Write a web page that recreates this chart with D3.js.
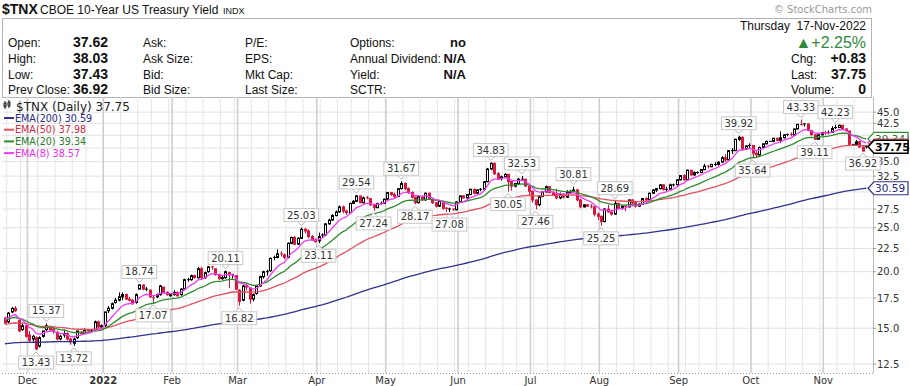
<!DOCTYPE html>
<html>
<head>
<meta charset="utf-8">
<script src="https://cdn.jsdelivr.net/npm/d3@7"></script>
<style>
  body { margin: 0; background: #fff; }
  svg text { font-family: "DejaVu Sans", Verdana, sans-serif; }
</style>
</head>
<body>
<script>
// daily candles: date open high low close
var candles = [
"2021-11-19 15.8 15.9 15.3 15.4","2021-11-22 15.5 16.3 15.4 16.2","2021-11-23 16.3 16.7 16.2 16.6",
"2021-11-24 16.6 16.8 16.3 16.4","2021-11-26 15.6 15.7 14.7 14.8","2021-11-29 14.9 15.4 14.8 15.2",
"2021-11-30 15.2 15.3 14.3 14.4",
"2021-12-01 14.5 14.8 14.0 14.1","2021-12-02 14.2 14.5 14.0 14.4","2021-12-03 14.3 14.4 13.43 13.5",
"2021-12-06 13.7 14.4 13.6 14.3","2021-12-07 14.4 14.8 14.3 14.8","2021-12-08 14.9 15.37 14.8 15.2",
"2021-12-09 15.1 15.2 14.8 14.9","2021-12-10 14.9 15.1 14.6 14.8","2021-12-13 14.7 14.8 14.1 14.2",
"2021-12-14 14.2 14.5 14.1 14.4","2021-12-15 14.5 14.9 14.3 14.6","2021-12-16 14.6 14.7 14.1 14.2",
"2021-12-17 14.2 14.3 13.8 14.0","2021-12-20 13.9 14.3 13.72 14.2","2021-12-21 14.3 14.8 14.2 14.8",
"2021-12-22 14.7 14.8 14.5 14.6","2021-12-23 14.6 15.0 14.6 14.9","2021-12-27 14.9 14.9 14.7 14.8",
"2021-12-28 14.8 14.9 14.7 14.8","2021-12-29 14.9 15.6 14.8 15.5","2021-12-30 15.5 15.6 15.0 15.1",
"2021-12-31 15.1 15.3 15.0 15.2",
"2022-01-03 15.2 16.3 15.1 16.3","2022-01-04 16.4 16.8 16.2 16.6","2022-01-05 16.6 17.1 16.5 17.0",
"2022-01-06 17.1 17.5 17.0 17.3","2022-01-07 17.3 18.0 17.2 17.6","2022-01-10 17.6 18.0 17.3 17.8",
"2022-01-11 17.8 17.9 17.3 17.4","2022-01-12 17.4 17.6 17.2 17.3","2022-01-13 17.3 17.4 16.9 17.0",
"2022-01-14 17.1 17.9 17.0 17.8","2022-01-18 18.3 18.74 18.3 18.7","2022-01-19 18.7 18.7 18.2 18.3",
"2022-01-20 18.3 18.5 18.1 18.3","2022-01-21 18.2 18.3 17.5 17.6","2022-01-24 17.5 17.7 17.07 17.5",
"2022-01-25 17.6 17.9 17.5 17.8","2022-01-26 17.8 18.7 17.7 18.6","2022-01-27 18.5 18.5 17.9 18.0",
"2022-01-28 18.0 18.1 17.7 17.8","2022-01-31 17.7 17.9 17.6 17.8",
"2022-02-01 17.8 18.2 17.7 18.0","2022-02-02 18.0 18.1 17.6 17.7","2022-02-03 17.8 18.4 17.7 18.3",
"2022-02-04 18.3 19.3 18.2 19.2","2022-02-07 19.2 19.4 19.0 19.2","2022-02-08 19.2 19.7 19.1 19.6",
"2022-02-09 19.6 19.7 19.3 19.4","2022-02-10 19.4 20.5 19.3 20.3","2022-02-11 20.3 20.5 19.2 19.4",
"2022-02-14 19.4 20.0 19.3 19.9","2022-02-15 20.0 20.6 19.9 20.5","2022-02-16 20.5 20.6 20.2 20.4",
"2022-02-17 20.3 20.3 19.6 19.7","2022-02-18 19.7 19.8 19.2 19.3","2022-02-22 19.3 19.6 19.2 19.4",
"2022-02-23 19.4 20.11 19.3 20.0","2022-02-24 19.9 20.0 18.4 19.7","2022-02-25 19.7 19.8 19.3 19.7",
"2022-02-28 19.6 19.6 18.2 18.3",
"2022-03-01 18.2 18.3 16.82 17.2","2022-03-02 17.3 18.7 17.2 18.6","2022-03-03 18.6 18.8 18.2 18.5",
"2022-03-04 18.4 18.4 17.0 17.4","2022-03-07 17.4 17.9 17.2 17.8","2022-03-08 17.9 18.7 17.8 18.6",
"2022-03-09 18.6 19.6 18.5 19.5","2022-03-10 19.5 20.1 19.3 20.0","2022-03-11 20.0 20.2 19.6 20.0",
"2022-03-14 20.1 21.5 20.0 21.4","2022-03-15 21.4 21.7 21.2 21.5","2022-03-16 21.5 22.4 21.4 21.9",
"2022-03-17 21.9 22.2 21.6 21.8","2022-03-18 21.8 21.9 21.3 21.5","2022-03-21 21.5 23.2 21.4 23.1",
"2022-03-22 23.1 23.9 23.0 23.8","2022-03-23 23.8 24.0 22.9 23.0","2022-03-24 23.0 23.8 22.9 23.7",
"2022-03-25 23.7 25.03 23.6 24.8","2022-03-28 24.8 25.0 24.3 24.6","2022-03-29 24.6 24.8 23.7 23.9",
"2022-03-30 23.9 24.1 23.4 23.5","2022-03-31 23.5 23.7 23.2 23.3",
"2022-04-01 23.4 24.4 23.11 23.9","2022-04-04 24.0 24.3 23.8 24.1","2022-04-05 24.1 25.6 24.0 25.5",
"2022-04-06 25.5 26.2 25.4 26.0","2022-04-07 26.0 26.8 25.9 26.6","2022-04-08 26.6 27.3 26.5 27.1",
"2022-04-11 27.1 28.0 27.0 27.8","2022-04-12 27.8 28.0 26.9 27.2","2022-04-13 27.2 27.4 26.7 27.0",
"2022-04-14 27.0 28.4 26.9 28.3","2022-04-18 28.3 28.8 28.2 28.6","2022-04-19 28.6 29.54 28.5 29.4",
"2022-04-20 29.4 29.4 28.3 28.4","2022-04-21 28.4 29.3 28.3 29.1","2022-04-22 29.1 29.4 28.9 29.0",
"2022-04-25 29.0 29.0 27.9 28.1","2022-04-26 28.1 28.2 27.24 27.7","2022-04-27 27.7 28.4 27.6 28.3",
"2022-04-28 28.3 28.6 28.1 28.3","2022-04-29 28.3 29.0 28.2 28.9",
"2022-05-02 28.9 30.0 28.8 29.9","2022-05-03 29.9 30.0 29.4 29.6","2022-05-04 29.6 29.9 29.0 29.3",
"2022-05-05 29.3 30.6 29.2 30.5","2022-05-06 30.5 31.67 30.4 31.3","2022-05-09 31.3 31.5 30.3 30.5",
"2022-05-10 30.5 30.7 29.7 29.9","2022-05-11 29.9 30.1 29.0 29.2","2022-05-12 29.2 29.3 28.17 28.4",
"2022-05-13 28.4 29.4 28.3 29.3","2022-05-16 29.3 29.5 28.7 28.8","2022-05-17 28.8 29.9 28.7 29.8",
"2022-05-18 29.8 29.9 28.8 28.9","2022-05-19 28.9 29.0 28.2 28.4","2022-05-20 28.4 28.5 27.7 27.9",
"2022-05-23 27.9 28.7 27.8 28.6","2022-05-24 28.6 28.6 27.4 27.6","2022-05-25 27.6 27.8 27.1 27.5",
"2022-05-26 27.5 27.7 27.08 27.5","2022-05-27 27.5 27.6 27.2 27.4","2022-05-31 27.4 28.6 27.3 28.5",
"2022-06-01 28.5 29.4 28.4 29.4","2022-06-02 29.4 29.5 29.0 29.1","2022-06-03 29.1 29.7 29.0 29.6",
"2022-06-06 29.6 30.5 29.5 30.4","2022-06-07 30.4 30.5 29.6 29.8","2022-06-08 29.8 30.4 29.7 30.3",
"2022-06-09 30.3 30.6 30.1 30.4","2022-06-10 30.4 31.7 30.3 31.6","2022-06-13 31.6 33.9 31.5 33.7",
"2022-06-14 33.7 34.83 33.5 34.7","2022-06-15 34.7 34.8 32.7 32.9","2022-06-16 32.9 33.2 31.9 32.0",
"2022-06-17 32.1 32.6 31.8 32.4","2022-06-21 32.4 33.0 32.3 32.8","2022-06-22 32.8 32.8 30.05 31.6",
"2022-06-23 31.6 31.7 30.2 30.9","2022-06-24 30.9 31.4 30.7 31.3","2022-06-27 31.3 32.2 31.2 32.0",
"2022-06-28 32.0 32.53 31.9 32.0","2022-06-29 32.0 32.0 30.8 30.9","2022-06-30 30.9 31.0 29.5 30.1",
"2022-07-01 30.1 30.2 28.4 28.8","2022-07-05 28.8 28.9 27.46 28.1","2022-07-06 28.1 29.5 27.9 29.3",
"2022-07-07 29.3 30.1 29.2 30.0","2022-07-08 30.0 31.0 29.9 30.8","2022-07-11 30.8 30.8 29.8 29.9",
"2022-07-12 29.9 30.1 29.4 29.6","2022-07-13 29.6 30.5 28.9 29.1","2022-07-14 29.1 29.9 28.9 29.6",
"2022-07-15 29.6 29.8 29.0 29.2","2022-07-18 29.2 30.3 29.1 29.9","2022-07-19 29.9 30.3 29.7 30.1",
"2022-07-20 30.1 30.81 30.0 30.3","2022-07-21 30.3 30.5 28.6 28.8","2022-07-22 28.8 29.0 27.6 27.8",
"2022-07-25 27.8 28.2 27.7 28.1","2022-07-26 28.1 28.2 27.8 27.9","2022-07-27 27.9 28.2 27.6 27.8",
"2022-07-28 27.8 27.9 26.5 26.8","2022-07-29 26.8 27.0 26.0 26.5",
"2022-08-01 26.5 26.6 25.25 25.8","2022-08-02 25.8 27.6 25.7 27.5","2022-08-03 27.5 28.1 27.0 27.1",
"2022-08-04 27.1 27.4 26.6 26.8","2022-08-05 26.8 28.69 26.7 28.3","2022-08-08 28.3 28.4 27.5 27.6",
"2022-08-09 27.6 28.0 27.4 27.9","2022-08-10 27.9 28.1 27.2 27.8","2022-08-11 27.8 28.9 27.7 28.8",
"2022-08-12 28.8 28.9 28.2 28.4","2022-08-15 28.4 28.5 27.7 27.9","2022-08-16 27.9 28.3 27.8 28.2",
"2022-08-17 28.2 29.1 28.1 29.0","2022-08-18 29.0 29.2 28.6 28.8","2022-08-19 28.8 29.9 28.7 29.8",
"2022-08-22 29.8 30.4 29.7 30.3","2022-08-23 30.3 30.6 30.0 30.5","2022-08-24 30.5 31.2 30.4 31.1",
"2022-08-25 31.1 31.2 30.2 30.4","2022-08-26 30.4 30.8 30.1 30.4","2022-08-29 30.4 31.3 30.3 31.1",
"2022-08-30 31.1 31.3 30.8 31.1","2022-08-31 31.1 32.0 31.0 31.9",
"2022-09-01 31.9 32.7 31.8 32.6","2022-09-02 32.6 32.8 31.8 31.9","2022-09-06 31.9 33.6 31.8 33.5",
"2022-09-07 33.5 33.5 32.6 32.7","2022-09-08 32.7 33.3 32.6 33.1","2022-09-09 33.1 33.3 32.9 33.1",
"2022-09-12 33.1 33.7 33.0 33.6","2022-09-13 33.6 34.6 33.5 34.2","2022-09-14 34.2 34.4 33.8 34.1",
"2022-09-15 34.1 34.6 34.0 34.5","2022-09-16 34.5 34.9 34.2 34.5","2022-09-19 34.5 35.0 34.3 34.9",
"2022-09-20 34.9 36.0 34.8 35.7","2022-09-21 35.7 36.4 34.9 35.3","2022-09-22 35.3 37.1 35.2 37.0",
"2022-09-23 36.9 37.5 36.4 37.0","2022-09-26 37.0 39.3 36.9 39.2","2022-09-27 39.2 39.92 38.9 39.6",
"2022-09-28 39.6 39.8 37.0 37.3","2022-09-29 37.3 38.0 37.2 37.9","2022-09-30 37.9 38.4 37.3 38.0",
"2022-10-03 38.0 38.0 35.64 36.5","2022-10-04 36.5 36.9 35.7 36.2","2022-10-05 36.2 37.8 36.1 37.6",
"2022-10-06 37.6 38.4 37.5 38.3","2022-10-07 38.3 38.9 38.2 38.8","2022-10-10 38.8 38.8 38.8 38.8",
"2022-10-11 38.8 39.5 38.6 39.4","2022-10-12 39.4 39.5 38.8 39.0","2022-10-13 39.0 40.8 38.5 39.5",
"2022-10-14 39.5 40.2 39.4 40.1","2022-10-17 40.1 40.3 39.8 40.2","2022-10-18 40.2 40.6 39.8 40.0",
"2022-10-19 40.0 41.4 39.9 41.3","2022-10-20 41.3 42.4 41.2 42.3","2022-10-21 42.3 43.33 42.0 42.2",
"2022-10-24 42.2 42.5 41.8 42.4","2022-10-25 42.4 42.4 40.8 41.0","2022-10-26 41.0 41.1 40.0 40.1",
"2022-10-27 40.1 40.3 39.11 39.2","2022-10-28 39.2 40.2 39.2 40.1","2022-10-31 40.1 40.7 40.0 40.5",
"2022-11-01 40.5 40.9 40.1 40.4","2022-11-02 40.4 41.0 40.2 40.6","2022-11-03 40.6 41.9 40.5 41.4",
"2022-11-04 41.4 42.23 41.3 41.6","2022-11-07 41.6 42.2 41.5 42.1","2022-11-08 42.1 42.1 41.1 41.3",
"2022-11-09 41.3 41.5 40.8 40.9","2022-11-10 40.9 40.9 38.0 38.2","2022-11-11 38.2 38.2 38.2 38.2",
"2022-11-14 38.2 39.1 38.1 38.7","2022-11-15 38.7 38.9 37.5 37.7","2022-11-16 37.7 37.8 36.92 36.92",
"2022-11-17 37.62 38.03 37.43 37.75"
];

// moving averages
var emaPeriods = [200, 50, 20, 8];
var emaSeeds = [13.85, 15.3, 15.7, 15.8];   // values at left edge of the chart
var emaNames = ["EMA(200)", "EMA(50)", "EMA(20)", "EMA(8)"];
var emaLast = ["30.59", "37.98", "39.34", "38.57"];
var emaColors = ["#32328c", "#e0505f", "#308a30", "#f03cf0"];
var emaTextColors = ["#2a2a80", "#cc2a45", "#2a7a2a", "#e830e8"];

var yTicks = [12.5, 15, 17.5, 20, 22.5, 25, 27.5, 30, 32.5, 35, 37.5, 40, 42.5, 45];
var hiddenTicks = [30, 37.5, 40];   // covered by the value tags on the right
var monthStarts = ["2021-12-01","2022-01-03","2022-02-01","2022-03-01","2022-04-01","2022-05-02",
                   "2022-06-01","2022-07-01","2022-08-01","2022-09-01","2022-10-03","2022-11-01"];
var monthLabels = ["Dec","2022","Feb","Mar","Apr","May","Jun","Jul","Aug","Sep","Oct","Nov"];

// annotated highs and lows
var peakDates = ["2021-12-03","2021-12-08","2021-12-20","2022-01-18","2022-01-24","2022-02-23","2022-03-01",
  "2022-03-25","2022-04-01","2022-04-19","2022-04-26","2022-05-06","2022-05-12","2022-05-26","2022-06-14",
  "2022-06-22","2022-06-28","2022-07-05","2022-07-20","2022-08-01","2022-08-05","2022-09-27","2022-10-03",
  "2022-10-21","2022-10-27","2022-11-04","2022-11-16"];
var peakValues = [13.43,15.37,13.72,18.74,17.07,20.11,16.82,25.03,23.11,29.54,27.24,31.67,28.17,27.08,34.83,
  30.05,32.53,27.46,30.81,25.25,28.69,39.92,35.64,43.33,39.11,42.23,36.92];
var peakKinds = ["L","H","L","H","L","H","L","H","L","H","L","H","L","L","H","L","H","L","H","L","H","H","L","H","L","H","L"];

// quote panel
var quoteLabels = [["Open:","High:","Low:","Prev Close:"],["Ask:","Ask Size:","Bid:","Bid Size:"],
                   ["P/E:","EPS:","Mkt Cap:","Last Size:"],["Options:","Annual Dividend:","Yield:","SCTR:"]];
var quoteValues = [["37.62","38.03","37.43","36.92"],["","","",""],["","","",""],["no","N/A","N/A",""]];
var sideLabels = ["Chg:","Last:","Volume:"];
var sideValues = ["+0.83","37.75","0"];

var w = 910, h = 386;
var plotL = 2, plotR = 873, plotT = 97, plotB = 373;
var arial = '"Liberation Sans", Arial, sans-serif';

var parse = d3.timeParse("%Y-%m-%d");
var index = {};
var data = candles.map(function(s, i) {
  var p = s.split(" ");
  index[p[0]] = i;
  return { i: i, date: parse(p[0]), o: +p[1], h: +p[2], l: +p[3], c: +p[4] };
});

var x = d3.scaleLinear().domain([0, data.length - 1]).range([5, 866.3]);
var y = d3.scaleLog().domain([11.95, 48.6]).range([plotB, plotT]);

var svg = d3.select("body").append("svg").attr("width", w).attr("height", h);

//---------------- header
var hdr = svg.append("g").attr("fill", "#111");
hdr.append("text").attr("x", 2).attr("y", 14).style("font-family", arial)
  .attr("font-size", 14).attr("font-weight", "bold").text("$TNX");
hdr.append("text").attr("x", 40).attr("y", 14).style("font-family", arial)
  .attr("font-size", 12).text("CBOE 10-Year US Treasury Yield");
hdr.append("text").attr("x", 223).attr("y", 14).style("font-family", arial)
  .attr("font-size", 9).text("INDX");
svg.append("text").attr("x", 872).attr("y", 13).attr("text-anchor", "end")
  .attr("font-size", 10).attr("fill", "#999").text("\u00a9 StockCharts.com");
hdr.append("rect").attr("x", 2.5).attr("y", 18.5).attr("width", 869).attr("height", 79)
  .attr("fill", "none").attr("stroke", "#b4b4b4");

var colX = [8, 143, 245, 350], valX = [108, null, null, 466];
var rowY = [47, 63, 79, 94];
quoteLabels.forEach(function(col, ci) {
  col.forEach(function(t, ri) {
    hdr.append("text").attr("x", colX[ci]).attr("y", rowY[ri])
      .style("font-family", arial).attr("font-size", 12).text(t);
    var v = quoteValues[ci][ri];
    if (v) hdr.append("text").attr("x", valX[ci]).attr("y", rowY[ri]).attr("text-anchor", "end")
      .style("font-family", arial)
      .attr("font-size", ci === 0 ? 14 : 13).attr("font-weight", "bold").text(v);
  });
});
hdr.append("text").attr("x", 866).attr("y", 30).attr("text-anchor", "end")
  .style("font-family", arial).attr("font-size", 12)
  .attr("xml:space", "preserve").text("Thursday  17-Nov-2022");
hdr.append("text").attr("x", 866).attr("y", 48).attr("text-anchor", "end")
  .style("font-family", arial).attr("font-size", 16)
  .attr("fill", "#2f8a3c").text("\u25B2+2.25%");
sideLabels.forEach(function(t, k) {
  hdr.append("text").attr("x", 791).attr("y", rowY[k + 1])
    .style("font-family", arial).attr("font-size", 12).text(t);
  hdr.append("text").attr("x", 866).attr("y", rowY[k + 1]).attr("text-anchor", "end")
    .style("font-family", arial).attr("font-size", 14)
    .attr("font-weight", "bold").text(sideValues[k]);
});

//---------------- grid
var grid = svg.append("g");
// weekly lines
data.forEach(function(d, i) {
  if (i > 0 && d.date.getDay() < data[i - 1].date.getDay()) {
    grid.append("line").attr("x1", x(i) - 1.7).attr("x2", x(i) - 1.7).attr("y1", plotT).attr("y2", plotB)
      .attr("stroke", "#e6e6e6");
  }
});
yTicks.forEach(function(v) {
  grid.append("line").attr("x1", plotL).attr("x2", plotR).attr("y1", y(v)).attr("y2", y(v))
    .attr("stroke", "#e2e2e2");
});
monthStarts.forEach(function(ds) {
  var xi = x(index[ds]) - 1.7;
  grid.append("line").attr("x1", xi).attr("x2", xi).attr("y1", plotT).attr("y2", plotB)
    .attr("stroke", "#cfcfcf").attr("stroke-width", 1.6);
});
grid.append("line").attr("x1", plotR + 0.5).attr("x2", plotR + 0.5).attr("y1", plotT).attr("y2", plotB)
  .attr("stroke", "#bdbdbd");
grid.append("line").attr("x1", plotL).attr("x2", plotR).attr("y1", plotB + 0.5).attr("y2", plotB + 0.5)
  .attr("stroke", "#999").attr("stroke-dasharray", "1,2");

//---------------- axes
var ya = svg.append("g").attr("font-size", 10).attr("fill", "#333");
yTicks.forEach(function(v) {
  ya.append("line").attr("x1", plotR).attr("x2", plotR + 3).attr("y1", y(v)).attr("y2", y(v)).attr("stroke", "#999");
  if (hiddenTicks.indexOf(v) < 0)
    ya.append("text").attr("x", 877).attr("y", y(v) + 3.6).text(d3.format(".1f")(v));
});
monthStarts.forEach(function(ds, k) {
  svg.append("text").attr("x", x(index[ds]) - 1.7).attr("y", 384).attr("text-anchor", "middle")
    .attr("font-size", 10).attr("font-weight", k === 1 ? "bold" : "normal").attr("fill", "#333")
    .text(monthLabels[k]);
});

//---------------- candles
var red = "#d8173d";
var cg = svg.append("g");
data.forEach(function(d, i) {
  var prev = i > 0 ? data[i - 1].c : d.o;
  var col = d.c < prev ? red : "#000";
  var cx = Math.round(x(i)) + 0.5;
  cg.append("line").attr("x1", cx).attr("x2", cx).attr("y1", y(d.h)).attr("y2", y(d.l)).attr("stroke", col);
  var top = y(Math.max(d.o, d.c)), bot = y(Math.min(d.o, d.c));
  if (bot - top < 1) {
    cg.append("line").attr("x1", cx - 1.5).attr("x2", cx + 1.5).attr("y1", top).attr("y2", top).attr("stroke", col);
  } else {
    cg.append("rect").attr("x", cx - 1).attr("y", top).attr("width", 2).attr("height", bot - top)
      .attr("fill", d.c > d.o ? "#fff" : col).attr("stroke", col);
  }
});

//---------------- EMA lines
var emaSeries = emaPeriods.map(function(p, k) {
  var a = 2 / (p + 1), e = emaSeeds[k];
  return data.map(function(d) { e = a * d.c + (1 - a) * e; return e; });
});
var line = d3.line().x(function(d, i) { return x(i); }).y(function(d) { return y(d); });
emaSeries.forEach(function(s, k) {
  svg.append("path").attr("d", line(s)).attr("fill", "none").attr("stroke", emaColors[k]).attr("stroke-width", 1.3);
});

//---------------- high/low labels
var lg = svg.append("g");
peakDates.forEach(function(ds, k) {
  var cx = x(index[ds]), v = peakValues[k], yv = y(v), hi = peakKinds[k] === "H";
  var t = lg.append("text").attr("font-size", 10).attr("fill", "#333").attr("text-anchor", "middle")
    .text(d3.format(".2f")(v));
  var tw = t.node().getComputedTextLength() + 6, bh = 13;
  var by = hi ? yv - 6 - bh : yv + 6;
  var tri = hi ? [[cx - 4, by + bh], [cx, by + bh + 4], [cx + 4, by + bh]] : [[cx - 4, by], [cx, by - 4], [cx + 4, by]];
  lg.insert("path", "text").attr("d", d3.line()(tri)).attr("fill", "#fff").attr("stroke", "#b8b8b8");
  lg.insert("rect", "text").attr("x", cx - tw / 2).attr("y", by).attr("width", tw).attr("height", bh)
    .attr("fill", "#fff").attr("fill-opacity", 0.9).attr("stroke", "#c8c8c8");
  t.attr("x", cx).attr("y", by + 10);
});

//---------------- legend
var leg = svg.append("g");
leg.append("path").attr("d", "M5,101V109M9,100V108M4,103h2v4h-2zM8,102h2v4h-2z").attr("stroke", "#222").attr("fill", "#fff");
leg.append("text").attr("x", 16).attr("y", 110.5).attr("font-size", 12).attr("fill", "#222").text("$TNX (Daily) 37.75");
emaNames.forEach(function(n, k) {
  var by = 121.5 + k * 11.7;
  leg.append("line").attr("x1", 4).attr("x2", 14).attr("y1", by - 3.5).attr("y2", by - 3.5)
    .attr("stroke", emaColors[k]).attr("stroke-width", 2);
  leg.append("text").attr("x", 15).attr("y", by).attr("font-size", 9.6).attr("fill", emaTextColors[k])
    .text(n + " " + emaLast[k]);
});

//---------------- right-hand value tags
function tag(v, txt, stroke, fill, bold) {
  var yc = y(v), x0 = 868, x1 = 908, hh = 6.5;
  var g = svg.append("g");
  g.append("path").attr("d", "M" + x0 + "," + yc + "L" + (x0 + 6) + "," + (yc - hh) + "H" + x1 + "V" + (yc + hh) + "H" + (x0 + 6) + "Z")
    .attr("fill", "#fff").attr("stroke", stroke).attr("stroke-width", bold ? 1.5 : 1.2);
  if (txt) g.append("text").attr("x", 875).attr("y", yc + 4).attr("font-size", bold ? 11 : 10.5)
    .attr("font-weight", bold ? "bold" : "normal").attr("fill", fill).text(txt);
}
var lastIdx = data.length - 1;
// EMA(8) and EMA(50) tags sit fully behind the last-price tag, only their borders peek out
tag(emaSeries[3][lastIdx], "", emaColors[3], emaTextColors[3]);
tag(emaSeries[2][lastIdx], emaLast[2], emaColors[2], emaTextColors[2]);
tag(emaSeries[1][lastIdx], "", emaColors[1], emaTextColors[1]);
tag(emaSeries[0][lastIdx], emaLast[0], emaColors[0], emaTextColors[0]);
tag(data[lastIdx].c, "37.75", "#000", "#000", true);
</script>
</body>
</html>
